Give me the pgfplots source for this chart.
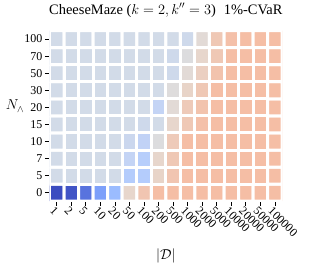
\documentclass[border=0pt]{standalone}
\usepackage{fontspec}
\setmainfont{Liberation Serif}
\usepackage{pgfplots}
\pgfplotsset{compat=1.18}
\usepackage{pgfplotstable}

% rows: N = 0,5,7,10,15,20,30,50,70,100 ; columns: |D| = 1 ... 100000
\pgfplotstableread{
x y c
0 0 0.00
1 0 0.02
2 0 0.10
3 0 0.20
4 0 0.28
5 0 0.55
6 0 0.62
7 0 0.65
8 0 0.65
9 0 0.65
10 0 0.65
11 0 0.65
12 0 0.65
13 0 0.65
14 0 0.65
15 0 0.65
0 1 0.45
1 1 0.45
2 1 0.45
3 1 0.45
4 1 0.45
5 1 0.36
6 1 0.36
7 1 0.56
8 1 0.62
9 1 0.65
10 1 0.65
11 1 0.65
12 1 0.65
13 1 0.65
14 1 0.65
15 1 0.65
0 2 0.45
1 2 0.45
2 2 0.45
3 2 0.45
4 2 0.45
5 2 0.41
6 2 0.37
7 2 0.55
8 2 0.61
9 2 0.65
10 2 0.65
11 2 0.65
12 2 0.65
13 2 0.65
14 2 0.65
15 2 0.65
0 3 0.45
1 3 0.45
2 3 0.45
3 3 0.45
4 3 0.45
5 3 0.43
6 3 0.40
7 3 0.49
8 3 0.60
9 3 0.65
10 3 0.65
11 3 0.65
12 3 0.65
13 3 0.65
14 3 0.65
15 3 0.65
0 4 0.45
1 4 0.45
2 4 0.45
3 4 0.45
4 4 0.45
5 4 0.45
6 4 0.44
7 4 0.45
8 4 0.55
9 4 0.61
10 4 0.64
11 4 0.65
12 4 0.65
13 4 0.65
14 4 0.65
15 4 0.65
0 5 0.45
1 5 0.45
2 5 0.45
3 5 0.45
4 5 0.45
5 5 0.45
6 5 0.45
7 5 0.41
8 5 0.52
9 5 0.60
10 5 0.63
11 5 0.65
12 5 0.65
13 5 0.65
14 5 0.65
15 5 0.65
0 6 0.45
1 6 0.45
2 6 0.45
3 6 0.45
4 6 0.45
5 6 0.45
6 6 0.45
7 6 0.45
8 6 0.50
9 6 0.56
10 6 0.61
11 6 0.65
12 6 0.65
13 6 0.65
14 6 0.65
15 6 0.65
0 7 0.45
1 7 0.45
2 7 0.45
3 7 0.45
4 7 0.45
5 7 0.45
6 7 0.45
7 7 0.45
8 7 0.44
9 7 0.52
10 7 0.58
11 7 0.63
12 7 0.65
13 7 0.65
14 7 0.65
15 7 0.65
0 8 0.45
1 8 0.45
2 8 0.45
3 8 0.45
4 8 0.45
5 8 0.45
6 8 0.45
7 8 0.45
8 8 0.44
9 8 0.49
10 8 0.55
11 8 0.61
12 8 0.65
13 8 0.65
14 8 0.65
15 8 0.65
0 9 0.45
1 9 0.45
2 9 0.45
3 9 0.45
4 9 0.45
5 9 0.45
6 9 0.45
7 9 0.45
8 9 0.45
9 9 0.44
10 9 0.52
11 9 0.61
12 9 0.64
13 9 0.65
14 9 0.65
15 9 0.65
}\heat

\begin{document}
\begin{tikzpicture}
\begin{axis}[
  scale only axis,
  width=232.7bp, height=170.7bp,
  xmin=-0.5, xmax=15.5, ymin=-0.5, ymax=9.5,
  axis line style={draw=none},
  colormap={cw}{rgb255(0)=(59,76,192) rgb255(10)=(88,115,222) rgb255(20)=(125,160,250) rgb255(28)=(155,188,255) rgb255(36)=(180,204,252) rgb255(41)=(196,212,245) rgb255(45)=(210,219,232) rgb255(50)=(222,220,220) rgb255(55)=(231,214,204) rgb255(60)=(238,202,185) rgb255(65)=(245,190,165) rgb255(100)=(180,4,38)},
  point meta min=0, point meta max=1,
  xtick={0,...,15},
  xticklabels={1,2,5,10,20,50,100,200,500,1000,2000,5000,10000,20000,50000,100000},
  ytick={0,...,9},
  yticklabels={0,5,7,10,15,20,30,50,70,100},
  tick align=outside, xtick pos=left, ytick pos=left,
  major tick length=4.5bp,
  tick style={black, line width=0.8bp},
  xticklabel style={rotate=-45, anchor=north west, inner sep=1.5bp, xshift=-2.5bp, font=\fontsize{12}{14}\selectfont},
  yticklabel style={inner sep=2.5bp, font=\fontsize{12}{14}\selectfont},
  title={CheeseMaze ($k=2, k''=3$)\hspace{8bp}1\%-CVaR},
  title style={font=\fontsize{14.5}{17}\selectfont, at={(axis description cs:0.5,1)}, anchor=base, yshift=10.5bp},
  xlabel={$|\mathcal{D}|$},
  every axis x label/.style={at={(axis description cs:0.5,0)}, anchor=center, yshift=-55bp, font=\fontsize{14}{16}\selectfont},
  ylabel={$N_\wedge$},
  every axis y label/.style={at={(axis description cs:-0.148,0.557)}, anchor=center, font=\fontsize{14}{16}\selectfont},
]
\addplot[matrix plot*, mesh/cols=16, point meta=explicit, shader=faceted, faceted color=white, line width=3bp] table[x=x, y=y, meta=c] {\heat};
\end{axis}
\path ([shift={(-49.5bp,-71.5bp)}]current axis.south west) rectangle ([shift={(27.8bp,26.8bp)}]current axis.north east);
\end{tikzpicture}
\end{document}
